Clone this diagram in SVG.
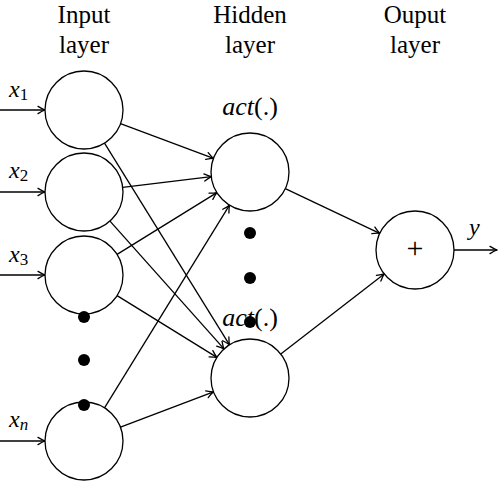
<svg xmlns="http://www.w3.org/2000/svg" width="498" height="482" viewBox="0 0 498 482">
<style>
.node{fill:#fff;stroke:#000;stroke-width:1.3}
.dot{fill:#000}
.edge{stroke:#000;stroke-width:1.3;fill:none;marker-end:url(#arr)}
.t{font-family:"Liberation Serif","Times New Roman",serif;fill:#000}
.title{font-size:25px;text-anchor:middle}
.m{font-style:italic}
</style>
<defs>
<marker id="arr" markerUnits="userSpaceOnUse" markerWidth="12" markerHeight="12" refX="0" refY="0" viewBox="-9 -6 10 12" orient="auto" overflow="visible">
<path d="M-7,-3.6 Q-2.5,-0.9 0,0 Q-2.5,0.9 -7,3.6" fill="none" stroke="#000" stroke-width="1.3" stroke-linecap="round"/>
</marker>
</defs>
<rect width="498" height="482" fill="#fff"/>
<g id="titles" class="t title">
<text x="84" y="23">Input</text><text x="84" y="53">layer</text>
<text x="250" y="23">Hidden</text><text x="250" y="53">layer</text>
<text x="415" y="23">Ouput</text><text x="415" y="53">layer</text>
</g>
<g id="connectors">
<line class="edge" x1="0" y1="110" x2="45" y2="110"/>
<line class="edge" x1="0" y1="192" x2="45" y2="192"/>
<line class="edge" x1="0" y1="275" x2="45" y2="275"/>
<line class="edge" x1="0" y1="441" x2="45" y2="441"/>
<line class="edge" x1="120.5" y1="123.6" x2="213.5" y2="158.4"/>
<line class="edge" x1="104.5" y1="143.2" x2="229.5" y2="344.8"/>
<line class="edge" x1="122.7" y1="187.3" x2="211.3" y2="176.7"/>
<line class="edge" x1="110" y1="221.1" x2="224" y2="348.9"/>
<line class="edge" x1="117.1" y1="254.4" x2="216.9" y2="192.6"/>
<line class="edge" x1="117.1" y1="295.6" x2="216.9" y2="357.4"/>
<line class="edge" x1="104.5" y1="407.8" x2="229.5" y2="205.2"/>
<line class="edge" x1="120.5" y1="427.2" x2="213.5" y2="391.8"/>
<line class="edge" x1="285.3" y1="188.7" x2="379.7" y2="233.3"/>
<line class="edge" x1="280.8" y1="354.1" x2="384.2" y2="273.9"/>
<line class="edge" x1="454" y1="250" x2="497" y2="250"/>
</g>
<g id="input1"><circle class="node" cx="84" cy="110" r="39"/><text class="t" x="9" y="97" font-size="24"><tspan class="m">x</tspan><tspan font-size="17" dy="3">1</tspan></text></g>
<g id="input2"><circle class="node" cx="84" cy="192" r="39"/><text class="t" x="9" y="178" font-size="24"><tspan class="m">x</tspan><tspan font-size="17" dy="3">2</tspan></text></g>
<g id="input3"><circle class="node" cx="84" cy="275" r="39"/><text class="t" x="9" y="262" font-size="24"><tspan class="m">x</tspan><tspan font-size="17" dy="3">3</tspan></text></g>
<g id="inputn"><circle class="node" cx="84" cy="441" r="39"/><text class="t" x="9" y="427" font-size="24"><tspan class="m">x</tspan><tspan class="m" font-size="17" dy="3">n</tspan></text></g>
<g id="input-dots"><circle class="dot" cx="84" cy="317" r="6"/><circle class="dot" cx="84" cy="360" r="6"/><circle class="dot" cx="84" cy="405" r="6"/></g>
<g id="hidden1"><circle class="node" cx="250" cy="172" r="39"/><text class="t" x="250" y="115" font-size="26" text-anchor="middle"><tspan class="m">act</tspan>(.)</text></g>
<g id="hidden2"><circle class="node" cx="250" cy="378" r="39"/><text class="t" x="250" y="326" font-size="26" text-anchor="middle"><tspan class="m">act</tspan>(.)</text></g>
<g id="hidden-dots"><circle class="dot" cx="250" cy="233" r="6"/><circle class="dot" cx="250" cy="278" r="6"/><circle class="dot" cx="250" cy="322" r="6"/></g>
<g id="output"><circle class="node" cx="415" cy="250" r="39"/><text class="t" x="415" y="258" font-size="30" text-anchor="middle">+</text><text class="t m" x="469" y="235" font-size="24">y</text></g>
</svg>
